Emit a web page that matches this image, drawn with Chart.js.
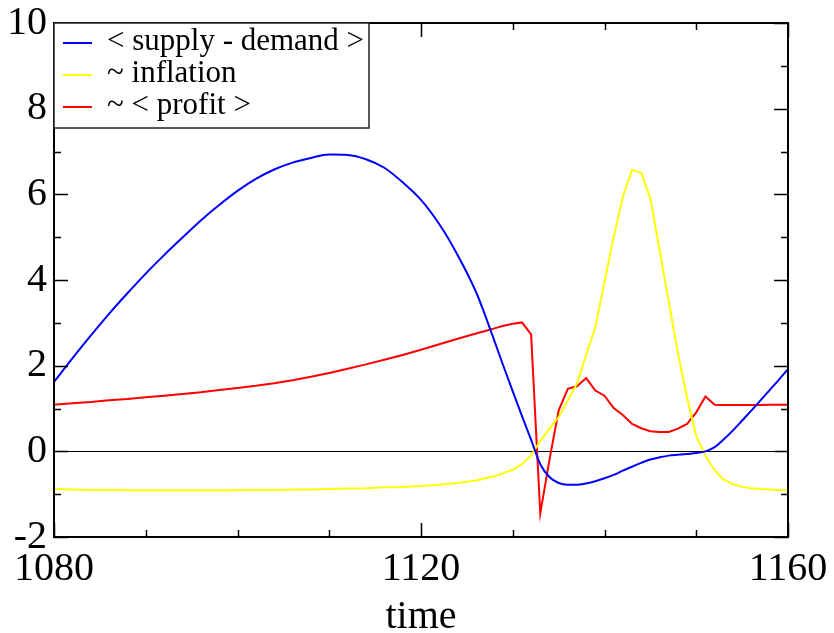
<!DOCTYPE html>
<html>
<head>
<meta charset="utf-8">
<script src="https://cdn.jsdelivr.net/npm/chart.js@4.4.1/dist/chart.umd.min.js"></script>
<style>
  html, body { margin: 0; padding: 0; background: #fff; }
</style>
</head>
<body>
<canvas id="chart" width="834" height="633"></canvas>
<script>
// time steps (every 2 up to 1126, then every step)
const times = [1080, 1082, 1084, 1086, 1088, 1090, 1092, 1094, 1096, 1098, 1100, 1102,
  1104, 1106, 1108, 1110, 1112, 1114, 1116, 1118, 1120, 1122, 1124, 1126,
  1127, 1128, 1129, 1130, 1131, 1132, 1133, 1134, 1135, 1136, 1137, 1138, 1139, 1140,
  1141, 1142, 1143, 1144, 1145, 1146, 1147, 1148, 1149, 1150, 1151, 1152, 1153, 1154,
  1155, 1156, 1157, 1158, 1159, 1160]

const supplyDemand = [1.62, 2.17, 2.70, 3.21, 3.69, 4.15, 4.58, 4.99, 5.39, 5.75, 6.08, 6.36,
  6.58, 6.74, 6.85, 6.93, 6.92, 6.82, 6.62, 6.28, 5.87, 5.30, 4.58, 3.72,
  3.17, 2.58, 1.98, 1.40, 0.83, 0.27, -0.30, -0.60, -0.74, -0.78, -0.78, -0.75, -0.70, -0.63,
  -0.55, -0.45, -0.36, -0.27, -0.19, -0.14, -0.10, -0.08, -0.06, -0.04, 0.00, 0.10, 0.28, 0.49,
  0.72, 0.95, 1.19, 1.43, 1.67, 1.92]

const inflation = [-0.88, -0.89, -0.90, -0.90, -0.91, -0.91, -0.91, -0.91, -0.91, -0.91, -0.91, -0.90,
  -0.90, -0.89, -0.89, -0.88, -0.87, -0.86, -0.84, -0.83, -0.81, -0.78, -0.74, -0.68,
  -0.63, -0.58, -0.51, -0.43, -0.30, -0.10, 0.24, 0.53, 0.80, 1.19, 1.58, 2.25, 2.90, 3.95,
  5.00, 5.95, 6.57, 6.50, 5.90, 4.70, 3.50, 2.30, 1.25, 0.35, -0.10, -0.44, -0.66, -0.77,
  -0.83, -0.86, -0.88, -0.89, -0.90, -0.91]

const profit = [1.09, 1.12, 1.15, 1.19, 1.22, 1.26, 1.30, 1.34, 1.38, 1.43, 1.48, 1.53,
  1.59, 1.66, 1.74, 1.83, 1.93, 2.03, 2.14, 2.25, 2.37, 2.50, 2.63, 2.75,
  2.81, 2.87, 2.93, 2.98, 3.01, 2.73, -1.45, -0.20, 0.95, 1.46, 1.52, 1.71, 1.42, 1.30,
  1.01, 0.85, 0.64, 0.54, 0.47, 0.45, 0.45, 0.53, 0.64, 0.91, 1.28, 1.09, 1.08, 1.08,
  1.08, 1.08, 1.08, 1.09, 1.09, 1.09]

const seriesNames = ['< supply - demand >', '~ inflation', '~ < profit >']
const seriesColors = ['#0000ff', '#ffff00', '#ff0000']
const xLabelTicks = [1080, 1120, 1160]
const yLabelTicks = [-2, 0, 2, 4, 6, 8, 10]

const serif = "'Liberation Serif', 'Times New Roman', serif"

function pts(values) {
  return times.map((t, i) => ({ x: t, y: values[i] }))
}

// frame, inward ticks on all four sides, boxed legend in the top-left corner
const gracePlugin = {
  id: 'grace',
  afterDraw(chart) {
    const ctx = chart.ctx
    const a = chart.chartArea
    const xs = chart.scales.x
    const ys = chart.scales.y
    ctx.save()
    ctx.strokeStyle = '#000'
    ctx.lineWidth = 1.5
    xs.ticks.forEach(t => {
      const px = Math.round(xs.getPixelForValue(t.value)) + 0.5
      const len = xLabelTicks.includes(t.value) ? 14 : 7
      ctx.beginPath()
      ctx.moveTo(px, a.bottom); ctx.lineTo(px, a.bottom - len)
      ctx.moveTo(px, a.top); ctx.lineTo(px, a.top + len)
      ctx.stroke()
    })
    ys.ticks.forEach(t => {
      const py = Math.round(ys.getPixelForValue(t.value)) + 0.5
      const len = yLabelTicks.includes(t.value) ? 14 : 7
      ctx.beginPath()
      ctx.moveTo(a.left, py); ctx.lineTo(a.left + len, py)
      ctx.moveTo(a.right, py); ctx.lineTo(a.right - len, py)
      ctx.stroke()
    })
    ctx.lineWidth = 2
    ctx.strokeRect(a.left, a.top, a.right - a.left, a.bottom - a.top)

    // legend
    const lx = a.left, ly = a.top, lw = 315, lh = 105
    ctx.fillStyle = '#fff'
    ctx.fillRect(lx, ly, lw, lh)
    ctx.lineWidth = 1.5
    ctx.strokeStyle = '#222'
    ctx.strokeRect(lx, ly, lw, lh)
    ctx.font = '31px ' + serif
    ctx.textBaseline = 'middle'
    ctx.textAlign = 'left'
    chart.data.datasets.forEach((ds, i) => {
      const y = ly + 20 + i * 32
      ctx.strokeStyle = ds.borderColor
      ctx.lineWidth = 2
      ctx.beginPath()
      ctx.moveTo(lx + 9, y); ctx.lineTo(lx + 38, y)
      ctx.stroke()
      ctx.fillStyle = '#000'
      ctx.fillText(ds.label, lx + 53, y - 1)
    })
    ctx.restore()
  }
}

new Chart(document.getElementById('chart').getContext('2d'), {
  type: 'line',
  data: {
    datasets: [
      { label: seriesNames[0], data: pts(supplyDemand), borderColor: seriesColors[0], cubicInterpolationMode: 'monotone' },
      { label: seriesNames[1], data: pts(inflation), borderColor: seriesColors[1] },
      { label: seriesNames[2], data: pts(profit), borderColor: seriesColors[2] }
    ]
  },
  options: {
    responsive: false,
    animation: false,
    layout: { padding: { top: 23, right: 46, left: 0, bottom: 0 } },
    elements: {
      line: { borderWidth: 2, tension: 0, fill: false },
      point: { radius: 0, hoverRadius: 0 }
    },
    plugins: { legend: { display: false }, tooltip: { enabled: false } },
    scales: {
      x: {
        type: 'linear',
        min: 1080,
        max: 1160,
        afterFit: s => { s.height = 96; s.paddingLeft = 0; s.paddingRight = 0 },
        border: { display: false },
        grid: { display: false, drawTicks: false },
        ticks: {
          stepSize: 10,
          autoSkip: false,
          maxRotation: 0,
          padding: 12,
          color: '#000',
          font: { family: serif, size: 40, lineHeight: 1 },
          callback: v => xLabelTicks.includes(v) ? String(v) : ''
        },
        title: {
          display: true,
          text: 'time',
          color: '#000',
          font: { family: serif, size: 40, lineHeight: 1 },
          padding: { top: 0, bottom: -4 }
        }
      },
      y: {
        min: -2,
        max: 10,
        afterFit: s => { s.width = 54; s.paddingTop = 0; s.paddingBottom = 0 },
        border: { display: false },
        grid: {
          drawTicks: false,
          color: c => c.tick && c.tick.value === 0 ? '#000' : 'rgba(0,0,0,0)',
          lineWidth: 1
        },
        ticks: {
          stepSize: 1,
          autoSkip: false,
          padding: 7,
          color: '#000',
          font: { family: serif, size: 40, lineHeight: 1 },
          callback: v => yLabelTicks.includes(v) ? String(v) : ''
        }
      }
    }
  },
  plugins: [gracePlugin]
})
</script>
</body>
</html>
